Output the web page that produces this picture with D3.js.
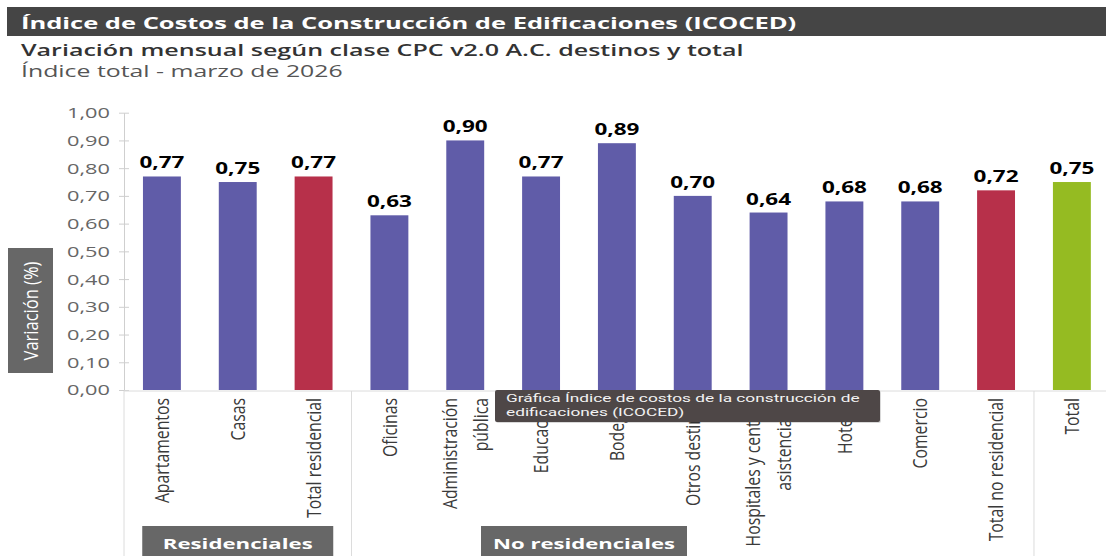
<!DOCTYPE html>
<html><head><meta charset="utf-8">
<script src="https://cdn.jsdelivr.net/npm/d3@7"></script>
<style>
body{margin:0;background:#fff;}
svg{display:block;font-family:"Open Sans","Noto Sans",sans-serif;}
</style>
</head><body>
<svg id="chart" width="1106" height="556"></svg>
<script>
// ---------- DATA ----------
const categories = ["Apartamentos","Casas","Total residencial","Oficinas","Administración pública","Educación","Bodegas","Otros destinos","Hospitales y centros asistenciales","Hoteles","Comercio","Total no residencial","Total"];
const categoryLabelLines = [["Apartamentos"],["Casas"],["Total residencial"],["Oficinas"],["Administración","pública"],["Educación"],["Bodegas"],["Otros destinos"],["Hospitales y centros","asistenciales"],["Hoteles"],["Comercio"],["Total no residencial"],["Total"]];
const values = [0.77,0.75,0.77,0.63,0.90,0.77,0.89,0.70,0.64,0.68,0.68,0.72,0.75];
const barKind = ["clase","clase","subtotal","clase","clase","clase","clase","clase","clase","clase","clase","subtotal","total"];
const yTickValues = [0,0.1,0.2,0.3,0.4,0.5,0.6,0.7,0.8,0.9,1.0];
const groups = [{name:"Residenciales",first:0,last:2},{name:"No residenciales",first:3,last:11}];
const titleText = "Índice de Costos de la Construcción de Edificaciones (ICOCED)";
const subtitleText = "Variación mensual según clase CPC v2.0 A.C. destinos y total";
const subtitle2Text = "Índice total - marzo de 2026";
const yAxisTitle = "Variación (%)";
const tooltipLines = ["Gráfica Índice de costos de la construcción de","edificaciones (ICOCED)"];

// ---------- STYLE / LAYOUT ----------
const colors = {clase:"#605ca8", subtotal:"#b7304a", total:"#95bb22"};
const W = 1106, H = 556;
const plot = {left:124, right:1109.8, top:112.7, bottom:390};
const groupLabelCenter = {"Residenciales":null, "No residenciales":584};
const groupTextWidth = {"Residenciales":150, "No residenciales":182};
const groupBoxWidth = {"Residenciales":191, "No residenciales":206};
const fmt = d => d.toFixed(2).replace(".", ",");

const svg = d3.select("#chart");

const x = d3.scaleBand().domain(categories).range([plot.left, plot.right]).paddingInner(0.5).paddingOuter(0.25);
const y = d3.scaleLinear().domain([0,1]).range([plot.bottom, plot.top]);

function fitWidth(t, w){
  const len = t.node().getComputedTextLength();
  return len > 0 ? w/len : 1;
}

// Title bar
svg.append("rect").attr("x",7).attr("y",7).attr("width",W-7).attr("height",29).attr("fill","#454545");
const tt = svg.append("text").text(titleText).attr("font-size",16).attr("font-weight",700).attr("fill","#fff");
tt.attr("transform",`translate(21,29) scale(${fitWidth(tt,776)},1)`);

const st = svg.append("text").text(subtitleText).attr("font-size",16).attr("font-weight",600).attr("fill","#333");
st.attr("transform",`translate(21,56) scale(${fitWidth(st,723)},1)`);
const st2 = svg.append("text").text(subtitle2Text).attr("font-size",16).attr("font-weight",400).attr("fill","#555");
st2.attr("transform",`translate(21,77) scale(${fitWidth(st2,322)},1)`);

// Y axis
const yAxis = d3.axisLeft(y).tickValues(yTickValues).tickFormat(fmt).tickSizeOuter(0).tickSizeInner(5);
const gy = svg.append("g").attr("transform",`translate(${plot.left},0)`).call(yAxis);
gy.attr("font-family",null).attr("font-size",null);
gy.select(".domain").attr("stroke","#cfcfcf");
gy.selectAll(".tick line").attr("x1",-5).attr("x2",5).attr("stroke","#cfcfcf");
gy.selectAll(".tick text").attr("font-size",14.5).attr("fill","#666");
const tickSx = fitWidth(gy.selectAll(".tick text").filter(d=>d===1), 43);
gy.selectAll(".tick text").attr("x",0).attr("dy","0.34em").attr("transform",`translate(-14,0) scale(${tickSx},1)`);

// X axis line
const xAxis = d3.axisBottom(x).tickSize(0).tickFormat("");
const gx = svg.append("g").attr("transform",`translate(0,${plot.bottom+1})`).call(xAxis);
gx.select(".domain").attr("stroke","#dcdcdc").attr("d",`M${plot.left},0H${W}`);

// group separators
const step = x.step(), gap = step - x.bandwidth();
const sepIdx = [0,3,12];
svg.selectAll("line.sep").data(sepIdx).join("line").attr("class","sep")
  .attr("x1",i=>x(categories[i]) - gap/2).attr("x2",i=>x(categories[i]) - gap/2)
  .attr("y1",plot.bottom+1).attr("y2",H).attr("stroke","#dcdcdc");

// bars
svg.selectAll("rect.bar").data(values).join("rect").attr("class","bar")
  .attr("x",(d,i)=>x(categories[i])).attr("width",x.bandwidth())
  .attr("y",d=>y(d)).attr("height",d=>y(0)-y(d))
  .attr("fill",(d,i)=>colors[barKind[i]]);

// data labels
const dl = svg.selectAll("text.dl").data(values).join("text").attr("class","dl")
  .text(d=>fmt(d)).attr("font-size",16).attr("font-weight",700).attr("fill","#000")
  .attr("text-anchor","middle");
const dlSx = fitWidth(dl.filter((d,i)=>i===0), 45);
dl.attr("transform",(d,i)=>`translate(${x(categories[i])+x.bandwidth()/2},${y(d)-8}) scale(${dlSx},1)`);

// x category labels (rotated)
const labelThick = 1.25, lineGap = 31;
categoryLabelLines.forEach((lines,i)=>{
  const cx = x(categories[i]) + x.bandwidth()/2;
  lines.forEach((ln,j)=>{
    const off = (j - (lines.length-1)/2) * lineGap;
    svg.append("text").attr("class","xl").text(ln)
      .attr("font-size",15.8).attr("fill","#3a3a3a").attr("text-anchor","end")
      .attr("dy","0.36em")
      .attr("transform",`translate(${cx+off},${plot.bottom+8}) scale(${labelThick},1) rotate(-90)`);
  });
});

// group label boxes
groups.forEach(g=>{
  const x0 = x(categories[g.first]), x1 = x(categories[g.last]) + x.bandwidth();
  const c = groupLabelCenter[g.name] != null ? groupLabelCenter[g.name] : (x0+x1)/2;
  const gg = svg.append("g");
  const bw = groupBoxWidth[g.name];
  gg.append("rect").attr("x",c-bw/2).attr("y",526).attr("width",bw).attr("height",H-526+4).attr("fill","#676767");
  const t = gg.append("text").text(g.name).attr("font-size",15).attr("font-weight",700).attr("fill","#fff").attr("text-anchor","middle");
  const sx = fitWidth(t, groupTextWidth[g.name]);
  t.attr("transform",`translate(${c},549) scale(${sx},1)`);
});

// Y axis title box
svg.append("rect").attr("x",8).attr("y",248).attr("width",45).attr("height",125).attr("fill","#676767");
svg.append("text").text(yAxisTitle).attr("font-size",16.5).attr("fill","#fff").attr("text-anchor","middle")
  .attr("dy","0.36em").attr("transform",`translate(31,311) scale(1.25,1) rotate(-90)`);

// tooltip
const tip = svg.append("g");
tip.append("rect").attr("x",496).attr("y",391).attr("width",385).attr("height",32).attr("fill","#000").attr("opacity",0.15).attr("rx",2);
tip.append("rect").attr("x",495).attr("y",390).attr("width",385).attr("height",32).attr("fill","#4e4747").attr("rx",2);
const tl1 = tip.append("text").text(tooltipLines[0]).attr("font-size",11.5).attr("fill","#f2f2f2").attr("font-family","Roboto,sans-serif");
const tipSx = fitWidth(tl1, 354);
tl1.attr("transform",`translate(506,402) scale(${tipSx},1)`);
tip.append("text").text(tooltipLines[1]).attr("font-size",11.5).attr("fill","#f2f2f2").attr("font-family","Roboto,sans-serif")
  .attr("transform",`translate(506,415.5) scale(${tipSx},1)`);
</script>
</body></html>
